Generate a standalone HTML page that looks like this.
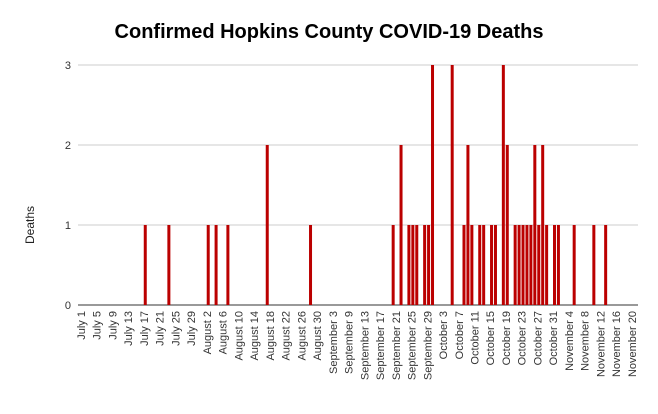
<!DOCTYPE html>
<html><head><meta charset="utf-8"><style>
body{margin:0;background:#fff;font-family:"Liberation Sans",Arial,sans-serif}
</style></head><body>
<svg id="chart" width="658" height="409" xmlns="http://www.w3.org/2000/svg" font-family="Liberation Sans, Arial, sans-serif">
<text x="329" y="38" text-anchor="middle" font-size="20" font-weight="bold" fill="#000">Confirmed Hopkins County COVID-19 Deaths</text>
<text transform="translate(34,225) rotate(-90)" text-anchor="middle" font-size="12" fill="#222">Deaths</text>
<g id="grid"></g><g id="bars"></g><g id="xlabels"></g>
</svg>
<script>
const tickLabels=["July 1","July 5","July 9","July 13","July 17","July 21","July 25","July 29","August 2","August 6","August 10","August 14","August 18","August 22","August 26","August 30","September 3","September 9","September 13","September 17","September 21","September 25","September 29","October 3","October 7","October 11","October 15","October 19","October 23","October 27","October 31","November 4","November 8","November 12","November 16","November 20"];
const yTicks=[0,1,2,3];
const barSlots=[16,22,32,34,37,47,58,79,81,83,84,85,87,88,89,94,97,98,99,101,102,104,105,107,108,110,111,112,113,114,115,116,117,118,120,121,125,130,133];
const barValues=[1,1,1,1,1,2,1,1,2,1,1,1,1,1,3,3,1,2,1,1,1,1,1,3,2,1,1,1,1,1,2,1,2,1,1,1,1,1,1];
const NS="http://www.w3.org/2000/svg";
const x0=82.3,step=3.935,yBase=305,yTop=65,yMax=3,left=78,right=638;
const xs=i=>x0+i*step, ys=v=>yBase-(v/yMax)*(yBase-yTop);
const g=document.getElementById('grid'),b=document.getElementById('bars'),xl=document.getElementById('xlabels');
yTicks.forEach(t=>{
 const l=document.createElementNS(NS,'line');
 
 
 l.setAttribute('x1',left);l.setAttribute('x2',right);l.setAttribute('y1',ys(t));l.setAttribute('y2',ys(t));
 l.setAttribute('stroke',t===0?'#333':'#ccc');l.setAttribute('stroke-width','1');g.appendChild(l);
 const tx=document.createElementNS(NS,'text');
 
 
 tx.setAttribute('x',71);tx.setAttribute('y',ys(t)+4);tx.setAttribute('text-anchor','end');tx.setAttribute('font-size','11');tx.setAttribute('fill','#333');tx.textContent=t;g.appendChild(tx);
});
barSlots.forEach((s,i)=>{
 const r=document.createElementNS(NS,'rect');
 
 
 const y=ys(barValues[i]);
 r.setAttribute('x',xs(s)-1.5);r.setAttribute('width',3);r.setAttribute('y',y);r.setAttribute('height',yBase-y);r.setAttribute('fill','#bb0000');b.appendChild(r);
});
tickLabels.forEach((t,i)=>{
 const tx=document.createElementNS(NS,'text');
 
 
 const x=xs(i*4)+2.7;
 tx.setAttribute('transform','translate('+x+',311) rotate(-90)');
 tx.setAttribute('text-anchor','end');tx.setAttribute('font-size','11');tx.setAttribute('fill','#333');tx.textContent=t;xl.appendChild(tx);
});
</script>
</body></html>
